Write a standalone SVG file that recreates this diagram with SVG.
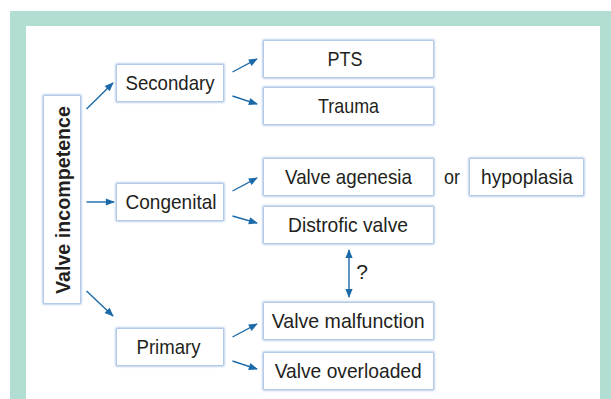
<svg xmlns="http://www.w3.org/2000/svg" width="611" height="399" viewBox="0 0 611 399">
<style>
.box{fill:#ffffff;stroke:#8daedb;stroke-width:2.5;filter:url(#glow)}
.t{font-family:"Liberation Sans",Arial,sans-serif;font-size:21px;fill:#231f20;text-anchor:middle}
.c{stroke:#1a69a8;stroke-width:1.4;fill:none;marker-end:url(#ah)}
</style>
<defs>
<filter id="glow" x="-20%" y="-30%" width="140%" height="160%">
<feGaussianBlur in="SourceGraphic" stdDeviation="1.3"/>
</filter>
<marker id="ah" viewBox="0 0 10 10" refX="9" refY="5" markerWidth="10" markerHeight="9" markerUnits="userSpaceOnUse" orient="auto-start-reverse">
<path d="M0,1 L10,5 L0,9 z" fill="#1a69a8"/>
</marker>
</defs>
<rect x="10" y="11" width="601" height="388" fill="#b2ddd3"/>
<rect x="26" y="26" width="574" height="373" fill="#ffffff"/>

<g id="valve-incompetence">
<rect class="box" x="44" y="96" width="36" height="207"/>
<rect x="44" y="96" width="36" height="207" fill="#fff"/>
<text class="t" transform="translate(69.5,200) rotate(-90)" font-weight="bold" textLength="188" lengthAdjust="spacingAndGlyphs">Valve incompetence</text>
</g>
<g id="secondary">
<rect class="box" x="117" y="65" width="106" height="36"/>
<rect x="117" y="65" width="106" height="36" fill="#fff"/>
<text class="t" x="170" y="90" textLength="89" lengthAdjust="spacingAndGlyphs">Secondary</text>
</g>
<g id="congenital">
<rect class="box" x="117" y="184" width="106" height="36"/>
<rect x="117" y="184" width="106" height="36" fill="#fff"/>
<text class="t" x="171" y="209" textLength="91" lengthAdjust="spacingAndGlyphs">Congenital</text>
</g>
<g id="primary">
<rect class="box" x="117" y="329" width="106" height="36"/>
<rect x="117" y="329" width="106" height="36" fill="#fff"/>
<text class="t" x="168.5" y="354" textLength="64" lengthAdjust="spacingAndGlyphs">Primary</text>
</g>
<g id="pts">
<rect class="box" x="264" y="41" width="169" height="36"/>
<rect x="264" y="41" width="169" height="36" fill="#fff"/>
<text class="t" x="345" y="66" textLength="35" lengthAdjust="spacingAndGlyphs">PTS</text>
</g>
<g id="trauma">
<rect class="box" x="264" y="88" width="169" height="36"/>
<rect x="264" y="88" width="169" height="36" fill="#fff"/>
<text class="t" x="348.5" y="113" textLength="61" lengthAdjust="spacingAndGlyphs">Trauma</text>
</g>
<g id="valve-agenesia">
<rect class="box" x="264" y="159" width="169" height="36"/>
<rect x="264" y="159" width="169" height="36" fill="#fff"/>
<text class="t" x="348.5" y="184" textLength="127" lengthAdjust="spacingAndGlyphs">Valve agenesia</text>
</g>
<g id="or">
<text class="t" x="452" y="184" textLength="16" lengthAdjust="spacingAndGlyphs">or</text>
</g>
<g id="hypoplasia">
<rect class="box" x="470" y="159" width="113" height="36"/>
<rect x="470" y="159" width="113" height="36" fill="#fff"/>
<text class="t" x="527" y="184" textLength="92" lengthAdjust="spacingAndGlyphs">hypoplasia</text>
</g>
<g id="distrofic-valve">
<rect class="box" x="264" y="207" width="169" height="36"/>
<rect x="264" y="207" width="169" height="36" fill="#fff"/>
<text class="t" x="348" y="232" textLength="120" lengthAdjust="spacingAndGlyphs">Distrofic valve</text>
</g>
<g id="valve-malfunction">
<rect class="box" x="264" y="303" width="169" height="36"/>
<rect x="264" y="303" width="169" height="36" fill="#fff"/>
<text class="t" x="348.2" y="328" textLength="153" lengthAdjust="spacingAndGlyphs">Valve malfunction</text>
</g>
<g id="valve-overloaded">
<rect class="box" x="264" y="353" width="169" height="36"/>
<rect x="264" y="353" width="169" height="36" fill="#fff"/>
<text class="t" x="348.2" y="378" textLength="147" lengthAdjust="spacingAndGlyphs">Valve overloaded</text>
</g>

<g id="connectors">
<line class="c" x1="86.5" y1="109" x2="113" y2="83"/>
<line class="c" x1="86.5" y1="202" x2="114" y2="202"/>
<line class="c" x1="86.5" y1="291" x2="113" y2="316"/>
<line class="c" x1="232.5" y1="72" x2="257" y2="59"/>
<line class="c" x1="232.5" y1="96" x2="257" y2="104"/>
<line class="c" x1="232.5" y1="191" x2="257" y2="178"/>
<line class="c" x1="232.5" y1="216" x2="257" y2="223"/>
<line class="c" x1="232.5" y1="337" x2="257" y2="324"/>
<line class="c" x1="232.5" y1="361" x2="257" y2="369"/>
<line class="c" x1="349" y1="250" x2="349" y2="297" marker-start="url(#ah)"/>
<text class="t" x="362" y="279" font-size="19">?</text>
</g>
</svg>
